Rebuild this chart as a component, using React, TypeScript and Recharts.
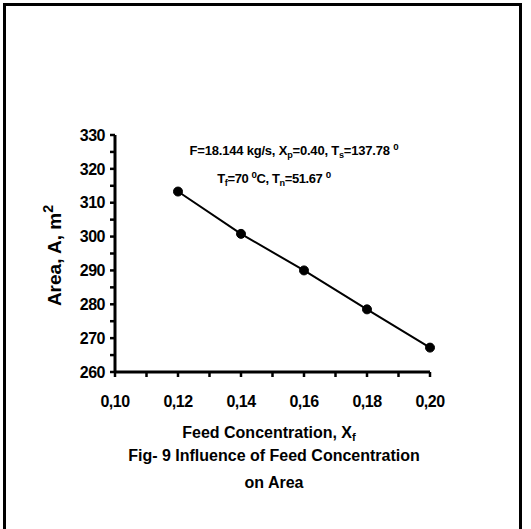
import React from 'react';
import { LineChart, Line, XAxis, YAxis } from 'recharts';

const feedConcentration = [0.12, 0.14, 0.16, 0.18, 0.2];
const areaValues = [313.3, 300.8, 290.0, 278.5, 267.2];
const xTicks = [0.1, 0.11, 0.12, 0.13, 0.14, 0.15, 0.16, 0.17, 0.18, 0.19, 0.2];
const yTicks = [260, 265, 270, 275, 280, 285, 290, 295, 300, 305, 310, 315, 320, 325, 330];

const data = feedConcentration.map((x, i) => ({ x, area: areaValues[i] }));

const FONT = '"Liberation Sans", Arial, Helvetica, sans-serif';

const fmtX = (v: number) => {
  const h = Math.round(v * 100);
  return h % 2 === 0 ? v.toFixed(2).replace('.', ',') : '';
};
const fmtY = (v: number) => (v % 10 === 0 ? String(v) : '');

const sub: React.CSSProperties = { fontSize: '0.7em', verticalAlign: '-0.3em', lineHeight: 0 };
const sup: React.CSSProperties = { fontSize: '0.75em', verticalAlign: '0.5em', lineHeight: 0 };

const centered = (x: number, cy: number, size: number): React.CSSProperties => ({
  position: 'absolute',
  left: x,
  top: cy - size / 2,
  transform: 'translateX(-50%)',
  whiteSpace: 'nowrap',
  fontSize: size,
  lineHeight: `${size}px`,
  fontWeight: 'bold',
  color: '#000',
  fontFamily: FONT,
});

export default function App() {
  return (
    <div
      style={{
        position: 'absolute',
        left: 0,
        top: 0,
        width: 531,
        height: 529,
        overflow: 'hidden',
        background: '#fff',
        fontFamily: FONT,
      }}
    >
      <div
        style={{
          position: 'absolute',
          left: 3,
          top: 3,
          width: 513,
          height: 600,
          border: '3px solid #000',
        }}
      />
      <div style={{ position: 'absolute', left: 0, top: 0 }}>
        <LineChart
          width={531}
          height={529}
          data={data}
          margin={{ top: 135, right: 101, bottom: 0, left: 0 }}
        >
          <XAxis
            type="number"
            dataKey="x"
            domain={[0.1, 0.2]}
            ticks={xTicks}
            tickFormatter={fmtX}
            interval={0}
            height={157}
            tickSize={5}
            tickMargin={19}
            axisLine={{ stroke: '#000', strokeWidth: 3 }}
            tickLine={{ stroke: '#000', strokeWidth: 2.5 }}
            tick={{ fill: '#000', fontSize: 16, fontWeight: 'bold', fontFamily: FONT, letterSpacing: -0.5 }}
          />
          <YAxis
            type="number"
            domain={[260, 330]}
            ticks={yTicks}
            tickFormatter={fmtY}
            interval={0}
            width={115}
            tickSize={5}
            tickMargin={5}
            axisLine={{ stroke: '#000', strokeWidth: 3 }}
            tickLine={{ stroke: '#000', strokeWidth: 2.5 }}
            tick={{ fill: '#000', fontSize: 16, fontWeight: 'bold', fontFamily: FONT, letterSpacing: -0.5 }}
          />
          <Line
            dataKey="area"
            stroke="#000"
            strokeWidth={2}
            dot={{ r: 4.5, fill: '#000', stroke: '#000', strokeWidth: 1 }}
            isAnimationActive={false}
          />
        </LineChart>
      </div>

      <div
        style={{
          ...centered(54, 255, 19),
          transform: 'translate(-50%, 0) rotate(-90deg)',
        }}
      >
        Area, A, m<span style={sup}>2</span>
      </div>

      <div style={{ ...centered(294, 150, 13), letterSpacing: -0.2 }}>
        F=18.144 kg/s, X<span style={sub}>p</span>=0.40, T<span style={sub}>s</span>=137.78 <span style={sup}>0</span>
      </div>
      <div style={{ ...centered(274, 178, 13), letterSpacing: -0.4 }}>
        T<span style={sub}>f</span>=70 <span style={sup}>0</span>C, T<span style={sub}>n</span>=51.67 <span style={sup}>0</span>
      </div>

      <div style={centered(269, 433, 16)}>
        Feed Concentration, X<span style={sub}>f</span>
      </div>
      <div style={centered(274, 456, 16)}>Fig- 9 Influence of Feed Concentration</div>
      <div style={centered(274, 483, 16)}>on Area</div>
    </div>
  );
}
